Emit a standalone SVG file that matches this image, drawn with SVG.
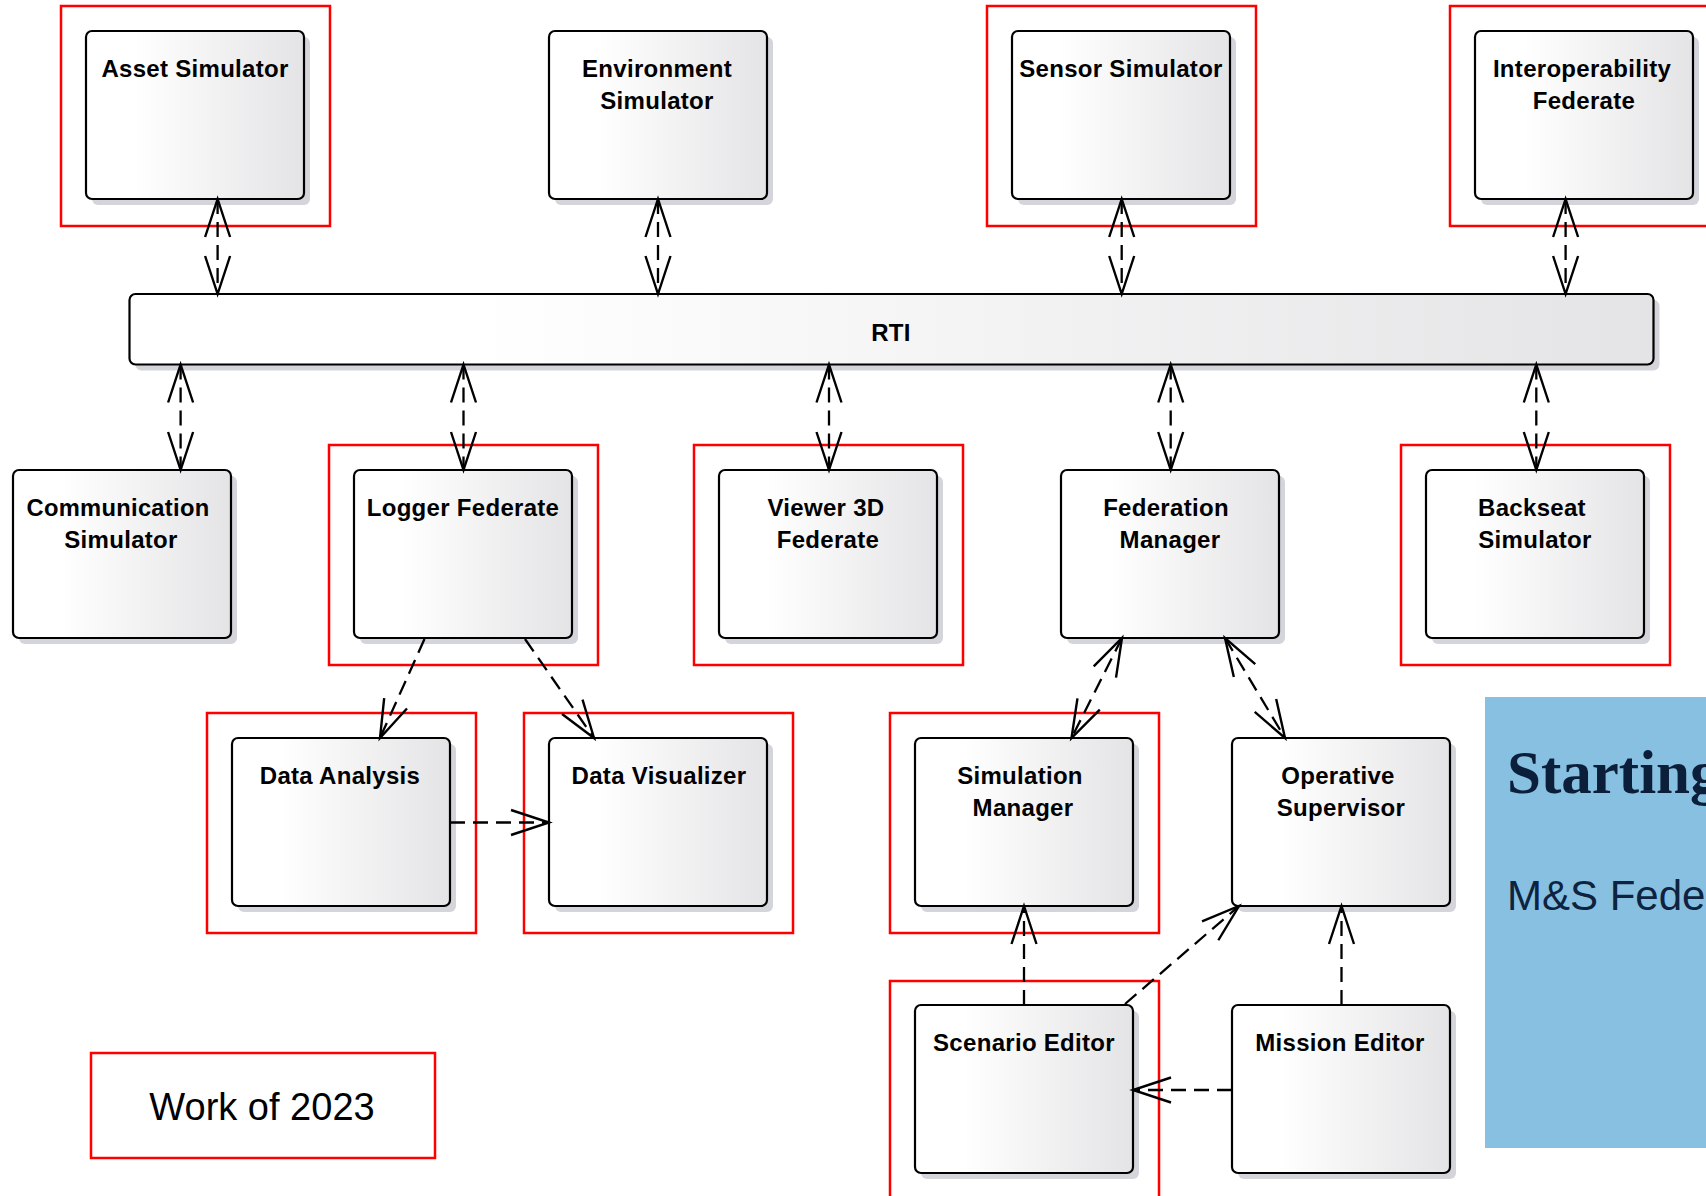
<svg xmlns="http://www.w3.org/2000/svg" width="1706" height="1196" viewBox="0 0 1706 1196">
  <defs>
    <linearGradient id="nodeFill" x1="0" y1="0" x2="1" y2="0">
      <stop offset="0" stop-color="#ffffff"/>
      <stop offset="0.22" stop-color="#ffffff"/>
      <stop offset="1" stop-color="#e4e4e6"/>
    </linearGradient>
    <marker id="open" viewBox="-45 -20 50 40" refX="0" refY="0" markerWidth="50" markerHeight="40" markerUnits="userSpaceOnUse" orient="auto-start-reverse" overflow="visible">
      <path d="M -38 -12.5 L 0 0 L -38 12.5" fill="none" stroke="#000" stroke-width="2.4" stroke-dasharray="none" stroke-linejoin="miter"/>
    </marker>
    <style>
      .shadow { fill: #d4d5db; }
      .box { fill: url(#nodeFill); stroke: #000; stroke-width: 2.2; }
      .label { font-family: "Liberation Sans", Arial, sans-serif; font-weight: bold; font-size: 24px; fill: #000; text-anchor: middle; letter-spacing: 0.3px; }
      .frame { fill: none; stroke: #ff0000; stroke-width: 2.5; }
      .dep { fill: none; stroke: #000; stroke-width: 2.3; stroke-dasharray: 15 8; }
      .one { marker-end: url(#open); }
      .two { marker-start: url(#open); marker-end: url(#open); }
    </style>
  </defs>

  <!-- red highlight frames -->
  <g id="frames">
    <rect class="frame" x="61" y="6" width="269" height="220"/>
    <rect class="frame" x="987" y="6" width="269" height="220"/>
    <rect class="frame" x="1450" y="6" width="280" height="220"/>
    <rect class="frame" x="329" y="445" width="269" height="220"/>
    <rect class="frame" x="694" y="445" width="269" height="220"/>
    <rect class="frame" x="1401" y="445" width="269" height="220"/>
    <rect class="frame" x="207" y="713" width="269" height="220"/>
    <rect class="frame" x="524" y="713" width="269" height="220"/>
    <rect class="frame" x="890" y="713" width="269" height="220"/>
    <rect class="frame" x="890" y="981" width="269" height="240"/>
  </g>

  <!-- top row -->
  <g id="asset-simulator">
    <rect class="shadow" x="92" y="37" width="218" height="168" rx="6"/>
    <rect class="box" x="86" y="31" width="218" height="168" rx="6"/>
    <text class="label" x="195" y="77">Asset Simulator</text>
  </g>
  <g id="environment-simulator">
    <rect class="shadow" x="555" y="37" width="218" height="168" rx="6"/>
    <rect class="box" x="549" y="31" width="218" height="168" rx="6"/>
    <text class="label" x="657" y="77">Environment</text>
    <text class="label" x="657" y="109">Simulator</text>
  </g>
  <g id="sensor-simulator">
    <rect class="shadow" x="1018" y="37" width="218" height="168" rx="6"/>
    <rect class="box" x="1012" y="31" width="218" height="168" rx="6"/>
    <text class="label" x="1121" y="77">Sensor Simulator</text>
  </g>
  <g id="interoperability-federate">
    <rect class="shadow" x="1481" y="37" width="218" height="168" rx="6"/>
    <rect class="box" x="1475" y="31" width="218" height="168" rx="6"/>
    <text class="label" x="1582" y="77">Interoperability</text>
    <text class="label" x="1584" y="109">Federate</text>
  </g>

  <!-- runtime infrastructure bar -->
  <g id="rti">
    <rect class="shadow" x="135.5" y="300" width="1524" height="70.5" rx="6"/>
    <rect class="box" x="129.5" y="294" width="1524" height="70.5" rx="6"/>
    <text class="label" x="891" y="340.5">RTI</text>
  </g>

  <!-- second row -->
  <g id="communication-simulator">
    <rect class="shadow" x="19" y="476" width="218" height="168" rx="6"/>
    <rect class="box" x="13" y="470" width="218" height="168" rx="6"/>
    <text class="label" x="118" y="515.5" textLength="183" lengthAdjust="spacingAndGlyphs">Communication</text>
    <text class="label" x="121" y="547.5">Simulator</text>
  </g>
  <g id="logger-federate">
    <rect class="shadow" x="360" y="476" width="218" height="168" rx="6"/>
    <rect class="box" x="354" y="470" width="218" height="168" rx="6"/>
    <text class="label" x="463" y="515.5">Logger Federate</text>
  </g>
  <g id="viewer-3d-federate">
    <rect class="shadow" x="725" y="476" width="218" height="168" rx="6"/>
    <rect class="box" x="719" y="470" width="218" height="168" rx="6"/>
    <text class="label" x="826" y="515.5">Viewer 3D</text>
    <text class="label" x="828" y="547.5">Federate</text>
  </g>
  <g id="federation-manager">
    <rect class="shadow" x="1067" y="476" width="218" height="168" rx="6"/>
    <rect class="box" x="1061" y="470" width="218" height="168" rx="6"/>
    <text class="label" x="1166" y="515.5">Federation</text>
    <text class="label" x="1170" y="547.5">Manager</text>
  </g>
  <g id="backseat-simulator">
    <rect class="shadow" x="1432" y="476" width="218" height="168" rx="6"/>
    <rect class="box" x="1426" y="470" width="218" height="168" rx="6"/>
    <text class="label" x="1532" y="515.5">Backseat</text>
    <text class="label" x="1535" y="547.5">Simulator</text>
  </g>

  <!-- third row -->
  <g id="data-analysis">
    <rect class="shadow" x="238" y="744" width="218" height="168" rx="6"/>
    <rect class="box" x="232" y="738" width="218" height="168" rx="6"/>
    <text class="label" x="340" y="783.5">Data Analysis</text>
  </g>
  <g id="data-visualizer">
    <rect class="shadow" x="555" y="744" width="218" height="168" rx="6"/>
    <rect class="box" x="549" y="738" width="218" height="168" rx="6"/>
    <text class="label" x="659" y="783.5">Data Visualizer</text>
  </g>
  <g id="simulation-manager">
    <rect class="shadow" x="921" y="744" width="218" height="168" rx="6"/>
    <rect class="box" x="915" y="738" width="218" height="168" rx="6"/>
    <text class="label" x="1020" y="783.5">Simulation</text>
    <text class="label" x="1023" y="815.5">Manager</text>
  </g>
  <g id="operative-supervisor">
    <rect class="shadow" x="1238" y="744" width="218" height="168" rx="6"/>
    <rect class="box" x="1232" y="738" width="218" height="168" rx="6"/>
    <text class="label" x="1338" y="783.5">Operative</text>
    <text class="label" x="1341" y="815.5">Supervisor</text>
  </g>

  <!-- fourth row -->
  <g id="scenario-editor">
    <rect class="shadow" x="921" y="1011" width="218" height="168" rx="6"/>
    <rect class="box" x="915" y="1005" width="218" height="168" rx="6"/>
    <text class="label" x="1024" y="1051">Scenario Editor</text>
  </g>
  <g id="mission-editor">
    <rect class="shadow" x="1238" y="1011" width="218" height="168" rx="6"/>
    <rect class="box" x="1232" y="1005" width="218" height="168" rx="6"/>
    <text class="label" x="1340" y="1051">Mission Editor</text>
  </g>

  <!-- dependency connectors -->
  <g id="connectors">
    <line class="dep two" x1="217.6" y1="199" x2="217.6" y2="294"/>
    <line class="dep two" x1="658" y1="199" x2="658" y2="294"/>
    <line class="dep two" x1="1121.7" y1="199" x2="1121.7" y2="294"/>
    <line class="dep two" x1="1565.6" y1="199" x2="1565.6" y2="294"/>

    <line class="dep two" x1="180.6" y1="364.5" x2="180.6" y2="470"/>
    <line class="dep two" x1="463.5" y1="364.5" x2="463.5" y2="470"/>
    <line class="dep two" x1="829" y1="364.5" x2="829" y2="470"/>
    <line class="dep two" x1="1170.7" y1="364.5" x2="1170.7" y2="470"/>
    <line class="dep two" x1="1536.3" y1="364.5" x2="1536.3" y2="470"/>

    <line class="dep one" x1="424.5" y1="639" x2="380" y2="738"/>
    <line class="dep one" x1="525" y1="639" x2="594" y2="738"/>
    <line class="dep one" x1="450" y1="822.5" x2="549" y2="822.5"/>

    <line class="dep two" x1="1122" y1="638" x2="1071.5" y2="738"/>
    <line class="dep two" x1="1225" y1="638" x2="1285" y2="738"/>

    <line class="dep one" x1="1024" y1="1005" x2="1024" y2="906"/>
    <line class="dep one" x1="1125" y1="1004" x2="1239" y2="906"/>
    <line class="dep one" x1="1341.5" y1="1005" x2="1341.5" y2="906"/>
    <line class="dep one" x1="1232" y1="1090" x2="1133" y2="1090"/>
  </g>

  <!-- year note -->
  <g id="work-note">
    <rect class="frame" x="91" y="1053" width="344" height="105"/>
    <text x="262" y="1120" font-family="'Liberation Sans', Arial, sans-serif" font-size="38" fill="#000" text-anchor="middle">Work of 2023</text>
  </g>

  <!-- side panel, running past the right edge -->
  <g id="side-panel">
    <rect x="1485" y="697" width="240" height="451" fill="#88c0e2"/>
    <text x="1507" y="793" font-family="'Liberation Serif', 'Times New Roman', serif" font-weight="bold" font-size="61" fill="#0b1f3a">Starting</text>
    <text x="1507" y="910" font-family="'Liberation Sans', Arial, sans-serif" font-size="42" fill="#0d2340">M&amp;S Fede</text>
  </g>
</svg>
